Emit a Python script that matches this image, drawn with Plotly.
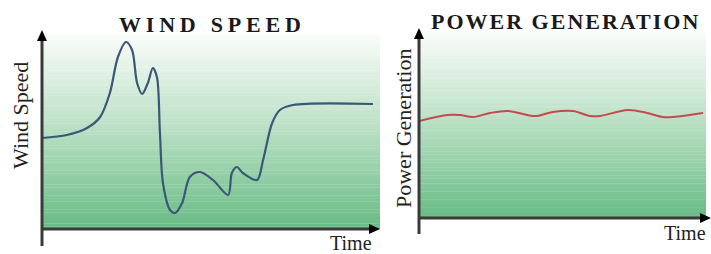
import plotly.graph_objects as go

W, H = 711, 254

# ---- data (arbitrary units) ----
wind_time = [0, 7.4, 13.4, 17.3, 20.2, 22.6, 25.0, 26.8, 28.3, 29.8, 31.5, 33.0, 34.2,
             35.1, 36.0, 38.1, 39.6, 41.7, 44.0, 47.0, 50.9, 55.4, 56.5, 58.0, 59.8,
             64.0, 65.8, 68.5, 70.8, 74.7, 98.5]
wind_speed = [9.1, 9.4, 10.1, 11.2, 13.6, 17.2, 18.7, 17.9, 14.6, 13.5, 14.6, 16.1, 15.2,
              9.6, 4.6, 1.9, 1.6, 2.6, 5.2, 5.7, 4.9, 3.4, 5.6, 6.2, 5.6,
              4.9, 6.9, 10.6, 11.9, 12.4, 12.5]

power_time = [0, 9.6, 14.1, 18.6, 24.4, 30.6, 37.1, 40.5, 46.0, 52.9, 58.8, 62.2,
              71.8, 78.4, 83.8, 87.3, 97.6]
power_gen = [9.7, 10.3, 10.3, 10.1, 10.5, 10.7, 10.3, 10.2, 10.6, 10.7, 10.2, 10.2,
             10.8, 10.5, 10.1, 10.1, 10.5]

titles = ["WIND SPEED", "POWER GENERATION"]
ylabels = ["Wind Speed", "Power Generation"]
xlabel = "Time"


def px(x):
    return x / W


def py(y):
    return 1 - y / H


fig = go.Figure()
fig.add_trace(go.Scatter(x=wind_time, y=wind_speed, mode="lines",
                         line=dict(color="#3b5878", width=2.2, shape="spline", smoothing=0.9),
                         xaxis="x", yaxis="y", hoverinfo="skip"))
fig.add_trace(go.Scatter(x=power_time, y=power_gen, mode="lines",
                         line=dict(color="#c44a52", width=2, shape="spline", smoothing=1.0),
                         xaxis="x2", yaxis="y2", hoverinfo="skip"))

ax_common = dict(showgrid=False, zeroline=False, showticklabels=False, ticks="",
                 showline=False, fixedrange=True)
fig.update_layout(
    width=W, height=H,
    margin=dict(l=0, r=0, t=0, b=0),
    paper_bgcolor="white", plot_bgcolor="rgba(0,0,0,0)",
    showlegend=False,
    xaxis=dict(domain=[px(42), px(378)], range=[0, 100], **ax_common),
    yaxis=dict(domain=[py(229), py(30)], range=[0, 19.9], **ax_common),
    xaxis2=dict(domain=[px(419), px(710)], range=[0, 100], anchor="y2", **ax_common),
    yaxis2=dict(domain=[py(218), py(28)], range=[0, 19.0], anchor="x2", **ax_common),
)

shapes = []


def lerp(a, b, t):
    return tuple(round(a[i] + (b[i] - a[i]) * t) for i in range(3))


top_c = (250, 252, 250)
mid_c = (190, 226, 200)
bot_c = (104, 188, 132)


def gradient(x0, x1, y0, y1, n=70):
    for i in range(n):
        t = (i + 0.5) / n
        if t < 0.45:
            c = lerp(top_c, mid_c, t / 0.45)
        else:
            c = lerp(mid_c, bot_c, (t - 0.45) / 0.55)
        ya = y0 + (y1 - y0) * i / n
        yb = y0 + (y1 - y0) * (i + 1) / n + 0.3
        shapes.append(dict(type="rect", xref="paper", yref="paper", layer="below",
                           x0=px(x0), x1=px(x1), y0=py(ya), y1=py(yb),
                           line=dict(width=0), fillcolor="rgb(%d,%d,%d)" % c))


gradient(42, 380, 34, 229)
gradient(419, 706, 32, 218)

axis_col = "#3a3a3a"


def vline(x, y_bot, y_top):
    shapes.append(dict(type="line", xref="paper", yref="paper",
                       x0=px(x), x1=px(x), y0=py(y_bot), y1=py(y_top + 8),
                       line=dict(color=axis_col, width=3)))
    shapes.append(dict(type="path", xref="paper", yref="paper",
                       path="M %f,%f L %f,%f L %f,%f Z" % (px(x), py(y_top), px(x - 5), py(y_top + 11),
                                                          px(x + 5), py(y_top + 11)),
                       fillcolor="black", line=dict(width=0)))


def hline(y, x_left, x_right):
    shapes.append(dict(type="line", xref="paper", yref="paper",
                       x0=px(x_left - 1), x1=px(x_right - 8), y0=py(y), y1=py(y),
                       line=dict(color=axis_col, width=3)))
    shapes.append(dict(type="path", xref="paper", yref="paper",
                       path="M %f,%f L %f,%f L %f,%f Z" % (px(x_right), py(y), px(x_right - 11), py(y - 5),
                                                          px(x_right - 11), py(y + 5)),
                       fillcolor="black", line=dict(width=0)))


vline(42, 246, 30)
hline(229, 42, 380)
vline(419, 234, 28)
hline(218, 419, 711)

fig.update_layout(shapes=shapes)

serif = "Times New Roman, Liberation Serif, Tinos, DejaVu Serif, serif"
ann = []
ann.append(dict(text='<b><span style="letter-spacing:4.8px">%s</span></b>' % titles[0], x=px(212), y=py(24),
                xref="paper", yref="paper", showarrow=False,
                font=dict(family=serif, size=22, color="#1a1a1a"), xanchor="center", yanchor="middle"))
ann.append(dict(text='<b><span style="letter-spacing:2px">%s</span></b>' % titles[1], x=px(565), y=py(22),
                xref="paper", yref="paper", showarrow=False,
                font=dict(family=serif, size=22, color="#1a1a1a"), xanchor="center", yanchor="middle"))
ann.append(dict(text=ylabels[0], x=px(20), y=py(116), xref="paper", yref="paper", showarrow=False,
                textangle=-90, font=dict(family=serif, size=22, color="#222"),
                xanchor="center", yanchor="middle"))
ann.append(dict(text=ylabels[1], x=px(403), y=py(129), xref="paper", yref="paper", showarrow=False,
                textangle=-90, font=dict(family=serif, size=22, color="#222"),
                xanchor="center", yanchor="middle"))
ann.append(dict(text=xlabel, x=px(351), y=py(243), xref="paper", yref="paper", showarrow=False,
                font=dict(family=serif, size=20, color="#222"), xanchor="center", yanchor="middle"))
ann.append(dict(text=xlabel, x=px(685), y=py(233), xref="paper", yref="paper", showarrow=False,
                font=dict(family=serif, size=20, color="#222"), xanchor="center", yanchor="middle"))
fig.update_layout(annotations=ann)

fig.write_html("out.html", config={"displayModeBar": False},
               post_script="document.body.style.margin='0';document.body.style.padding='0';")
